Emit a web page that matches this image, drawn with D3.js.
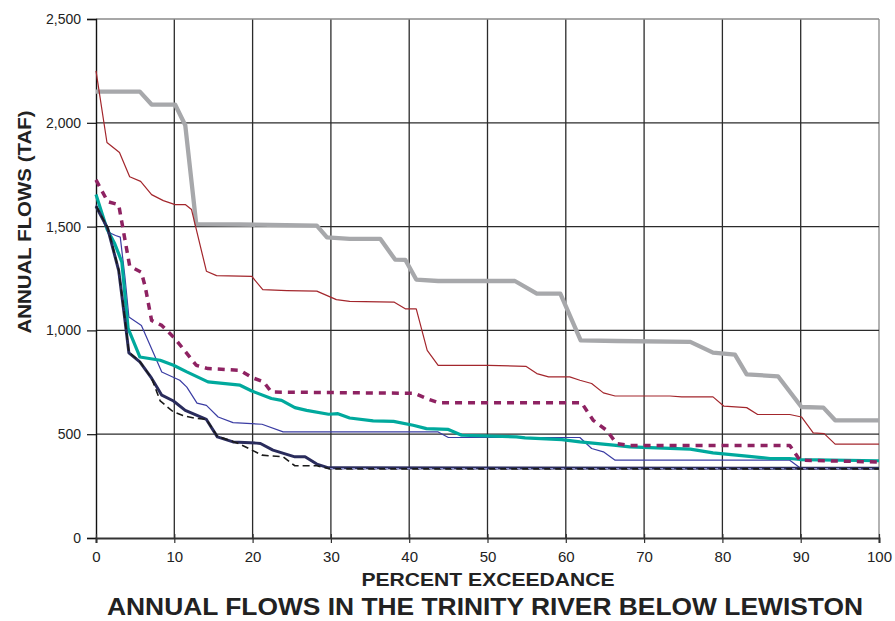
<!DOCTYPE html>
<html><head><meta charset="utf-8">
<script src="https://cdn.jsdelivr.net/npm/d3@7"></script>
<style>
html,body{margin:0;padding:0;background:#fff;}
svg{display:block;}
</style></head>
<body>
<svg id="chart" width="895" height="621"></svg>
<script>
// ---- DATA (percent exceedance, annual flow TAF) ----
const xTicks = [0,10,20,30,40,50,60,70,80,90,100];
const yTicks = [0,500,1000,1500,2000,2500];
const xTitle = "PERCENT EXCEEDANCE";
const yTitle = "ANNUAL FLOWS (TAF)";
const mainTitle = "ANNUAL FLOWS IN THE TRINITY RIVER BELOW LEWISTON";

const grayLine = [[0,2150],[5.6,2150],[7.1,2088],[10.1,2088],[11.4,1988],[12.8,1512],[18.4,1510],[28.2,1505],[29.5,1448],[32.4,1441],[36.3,1441],[38.2,1341],[39.5,1340],[40.9,1245],[43.7,1238],[53.5,1238],[56.3,1177],[59.3,1177],[61.9,952],[66.5,949],[75.9,945],[78.8,893],[81.6,883],[83.1,788],[87.1,779],[90.1,631],[92.9,628],[94.4,567],[100,567]];
const redLine = [[0,2250],[1.4,1905],[3.0,1857],[4.3,1740],[5.7,1718],[7.1,1654],[8.6,1625],[10.1,1606],[11.4,1606],[12.2,1582],[14.1,1285],[15.4,1264],[19.9,1260],[21.3,1196],[24.4,1192],[28.2,1189],[30.7,1148],[32.4,1140],[38.1,1136],[39.5,1104],[40.9,1104],[42.3,904],[43.7,832],[50.1,832],[54.9,827],[56.3,792],[57.8,776],[60.5,776],[61.8,760],[63.3,744],[64.8,699],[66.3,684],[73.3,684],[74.8,680],[78.8,680],[80.2,635],[83.1,628],[84.5,595],[88.6,595],[90.1,583],[91.6,506],[93.0,503],[94.4,452],[100,452]];
const purpleDotted = [[0,1725],[1.5,1620],[2.9,1605],[4.3,1310],[5.8,1280],[6.3,1208],[7.1,1048],[8.4,1024],[10.1,960],[12.8,832],[14.3,816],[18.4,808],[19.9,773],[21.4,752],[22.4,703],[40.7,697],[42.2,672],[43.7,652],[62.0,652],[63.5,567],[65.2,519],[66.5,455],[68.2,446],[88.6,446],[89.9,375],[100,366]];
const tealLine = [[0,1655],[1.4,1489],[2.4,1417],[2.9,1369],[3.3,1329],[4.1,1010],[5.6,872],[8.2,856],[9.9,832],[11.6,800],[14.3,752],[18.4,736],[19.9,708],[22.4,672],[23.7,663],[25.4,628],[26.9,615],[29.7,596],[30.9,599],[32.4,578],[35.4,564],[38.0,562],[40.5,543],[42.2,527],[45.0,523],[46.7,495],[53.7,487],[54.8,482],[59.5,474],[61.8,463],[66.1,447],[68.2,439],[75.9,428],[78.8,410],[83.1,394],[86.1,383],[88.6,383],[89.9,378],[100,372]];
const blueThin = [[0,1605],[1.6,1473],[2.5,1457],[3.1,1449],[3.7,1256],[4.2,1064],[5.8,1024],[8.4,800],[10.7,760],[11.6,727],[12.9,650],[14.1,639],[15.6,583],[17.5,556],[21.2,548],[23.9,511],[43.7,511],[45.0,484],[61.8,484],[63.3,431],[64.8,415],[66.3,375],[88.6,375],[89.9,338],[100,335]];
const navyLine = [[0,1598],[1.5,1490],[2.9,1288],[3.7,1048],[4.2,892],[5.6,848],[7.1,770],[8.4,688],[9.9,660],[11.4,615],[14.1,571],[15.5,487],[17.5,463],[20.5,457],[21.0,455],[22.6,423],[25.4,391],[26.7,391],[28.2,356],[29.7,338],[100,336]];
const blackDashed = [[0,1600],[1.5,1495],[2.9,1292],[3.7,1052],[4.2,895],[5.6,850],[7.1,770],[8.2,660],[9.9,607],[11.1,590],[12.5,578],[14.1,571],[15.5,490],[17.5,465],[18.4,452],[21.2,399],[23.9,391],[25.4,348],[28.2,348],[29.9,333],[100,333]];
const lavenderDashed = [[29.9,334],[100,334]];

const series = [
  {data: grayLine,      color:"#a7a8ab", width:4.3, dash:null},
  {data: redLine,       color:"#a3262c", width:1.2, dash:null},
  {data: blueThin,      color:"#3a3ca3", width:1.2, dash:null},
  {data: tealLine,      color:"#00a99d", width:3.2, dash:null},
  {data: purpleDotted,  color:"#8e2262", width:3.5, dash:"7,6"},
  {data: navyLine,      color:"#2a2c5c", width:3,   dash:null},
  {data: blackDashed,   color:"#1a1a1a", width:1.6, dash:"7,4"},
  {data: lavenderDashed,color:"#8d8fd0", width:1.4, dash:"3,8"}
];

// ---- LAYOUT ----
const svg = d3.select("#chart");
const x = d3.scaleLinear().domain([0,100]).range([96,879]);
const y = d3.scaleLinear().domain([0,2500]).range([538,19]);

// grid
svg.append("g").selectAll("line").data(xTicks.filter(d=>d>0)).join("line")
  .attr("x1",d=>x(d)).attr("x2",d=>x(d)).attr("y1",y(0)).attr("y2",y(2500))
  .attr("stroke",d=>d===100?"#8a8a8a":"#2b2b2b").attr("stroke-width",1.3);
svg.append("g").selectAll("line").data(yTicks.filter(d=>d>0)).join("line")
  .attr("x1",x(0)).attr("x2",x(100)).attr("y1",d=>y(d)).attr("y2",d=>y(d))
  .attr("stroke",d=>d===2500?"#8a8a8a":"#2b2b2b").attr("stroke-width",1.3);

// axes
const yAxis = d3.axisLeft(y).tickValues(yTicks).tickSize(9).tickPadding(6).tickFormat(d3.format(","));
const gy = svg.append("g").attr("transform",`translate(${x(0)},0)`).call(yAxis);
gy.select(".domain").attr("stroke","#111").attr("stroke-width",1.4);
gy.selectAll(".tick line").attr("stroke","#111").attr("stroke-width",1.2);
gy.selectAll("text").attr("font-family","'Liberation Sans',Arial,sans-serif").attr("font-size",14).attr("fill","#222");

const xAxis = d3.axisBottom(x).tickValues(xTicks).tickSize(5).tickPadding(8);
const gx = svg.append("g").attr("transform",`translate(0,${y(0)})`).call(xAxis);
gx.select(".domain").attr("stroke","#333").attr("stroke-width",2);
gx.selectAll(".tick line").attr("stroke","#333").attr("stroke-width",1.2).attr("y1",-4);
gx.selectAll("text").attr("font-family","'Liberation Sans Narrow','Arial Narrow',sans-serif").attr("font-size",15).attr("fill","#222");

// lines
const line = d3.line().x(d=>x(d[0])).y(d=>y(d[1]));
svg.append("g").selectAll("path").data(series).join("path")
  .attr("d",d=>line(d.data)).attr("fill","none")
  .attr("stroke",d=>d.color).attr("stroke-width",d=>d.width)
  .attr("stroke-dasharray",d=>d.dash).attr("stroke-linejoin","round");

// titles
svg.append("text").text(yTitle)
  .attr("transform","translate(31,222) rotate(-90)")
  .attr("text-anchor","middle").attr("font-family","'Liberation Sans',Arial,sans-serif")
  .attr("font-weight","bold").attr("font-size",18).attr("fill","#222")
  .attr("textLength",223).attr("lengthAdjust","spacingAndGlyphs");
svg.append("text").text(xTitle)
  .attr("x",488).attr("y",586).attr("text-anchor","middle")
  .attr("font-family","'Liberation Sans Narrow','Arial Narrow',sans-serif")
  .attr("font-weight","bold").attr("font-size",19).attr("fill","#222")
  .attr("textLength",253).attr("lengthAdjust","spacingAndGlyphs");
svg.append("text").text(mainTitle)
  .attr("x",485).attr("y",615).attr("text-anchor","middle")
  .attr("font-family","'Liberation Sans Narrow','Arial Narrow',sans-serif")
  .attr("font-weight","bold").attr("font-size",24).attr("fill","#222")
  .attr("textLength",756).attr("lengthAdjust","spacingAndGlyphs");
</script>
</body></html>
